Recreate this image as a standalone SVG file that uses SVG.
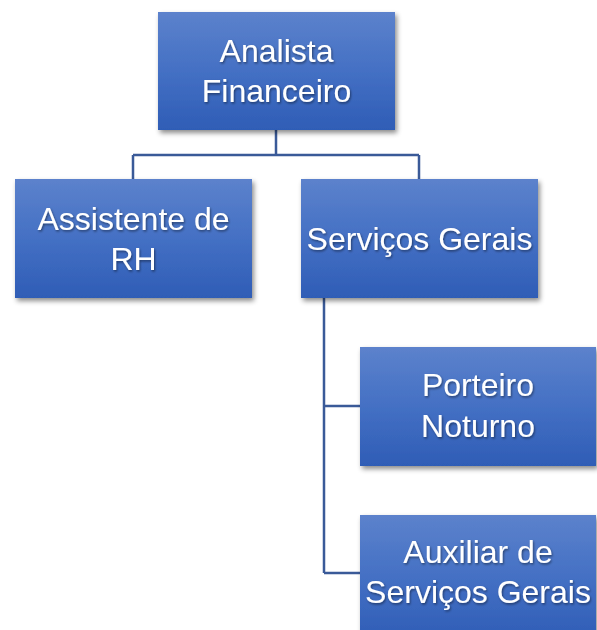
<svg xmlns="http://www.w3.org/2000/svg" width="597" height="630" viewBox="0 0 597 630">
  <defs>
    <linearGradient id="boxGrad" x1="0" y1="0" x2="0" y2="1">
      <stop offset="0" stop-color="#5C82CC"/>
      <stop offset="0.5" stop-color="#4470C4"/>
      <stop offset="1" stop-color="#2F5DB6"/>
    </linearGradient>
    <filter id="shadow" x="-10%" y="-10%" width="125%" height="130%">
      <feDropShadow dx="2" dy="3" stdDeviation="2.5" flood-color="#000" flood-opacity="0.45"/>
    </filter>
    <filter id="tshadow" x="-5%" y="-20%" width="115%" height="150%">
      <feDropShadow dx="1" dy="1.5" stdDeviation="1" flood-color="#000" flood-opacity="0.45"/>
    </filter>
  </defs>
  <style>
    .box { fill: url(#boxGrad); filter: url(#shadow); }
    .lbl { font-family: "Liberation Sans", Arial, sans-serif; font-size: 32px; fill: #ffffff; text-anchor: middle; filter: url(#tshadow); }
    .conn { fill: none; stroke: #3A5A98; stroke-width: 2.5; }
  </style>
  <rect width="597" height="630" fill="#ffffff"/>
  <g id="connectors">
    <path class="conn" d="M276 130 V155 M133 155 H419 M133 155 V179 M419 155 V179"/>
    <path class="conn" d="M324 298 V573 M324 406 H360 M324 573 H360"/>
  </g>
  <g id="analista-financeiro">
    <rect class="box" x="158" y="12" width="237" height="118"/>
    <text class="lbl" x="276.5" y="62">Analista</text>
    <text class="lbl" x="276.5" y="102">Financeiro</text>
  </g>
  <g id="assistente-rh">
    <rect class="box" x="15" y="179" width="237" height="119"/>
    <text class="lbl" x="133.5" y="230">Assistente de</text>
    <text class="lbl" x="133.5" y="270">RH</text>
  </g>
  <g id="servicos-gerais">
    <rect class="box" x="301" y="179" width="237" height="119"/>
    <text class="lbl" x="419.5" y="250">Serviços Gerais</text>
  </g>
  <g id="porteiro-noturno">
    <rect class="box" x="360" y="347" width="236" height="119"/>
    <text class="lbl" x="478" y="396">Porteiro</text>
    <text class="lbl" x="478" y="437">Noturno</text>
  </g>
  <g id="auxiliar-servicos-gerais">
    <rect class="box" x="360" y="515" width="236" height="125"/>
    <text class="lbl" x="478" y="563">Auxiliar de</text>
    <text class="lbl" x="478" y="603">Serviços Gerais</text>
  </g>
</svg>
